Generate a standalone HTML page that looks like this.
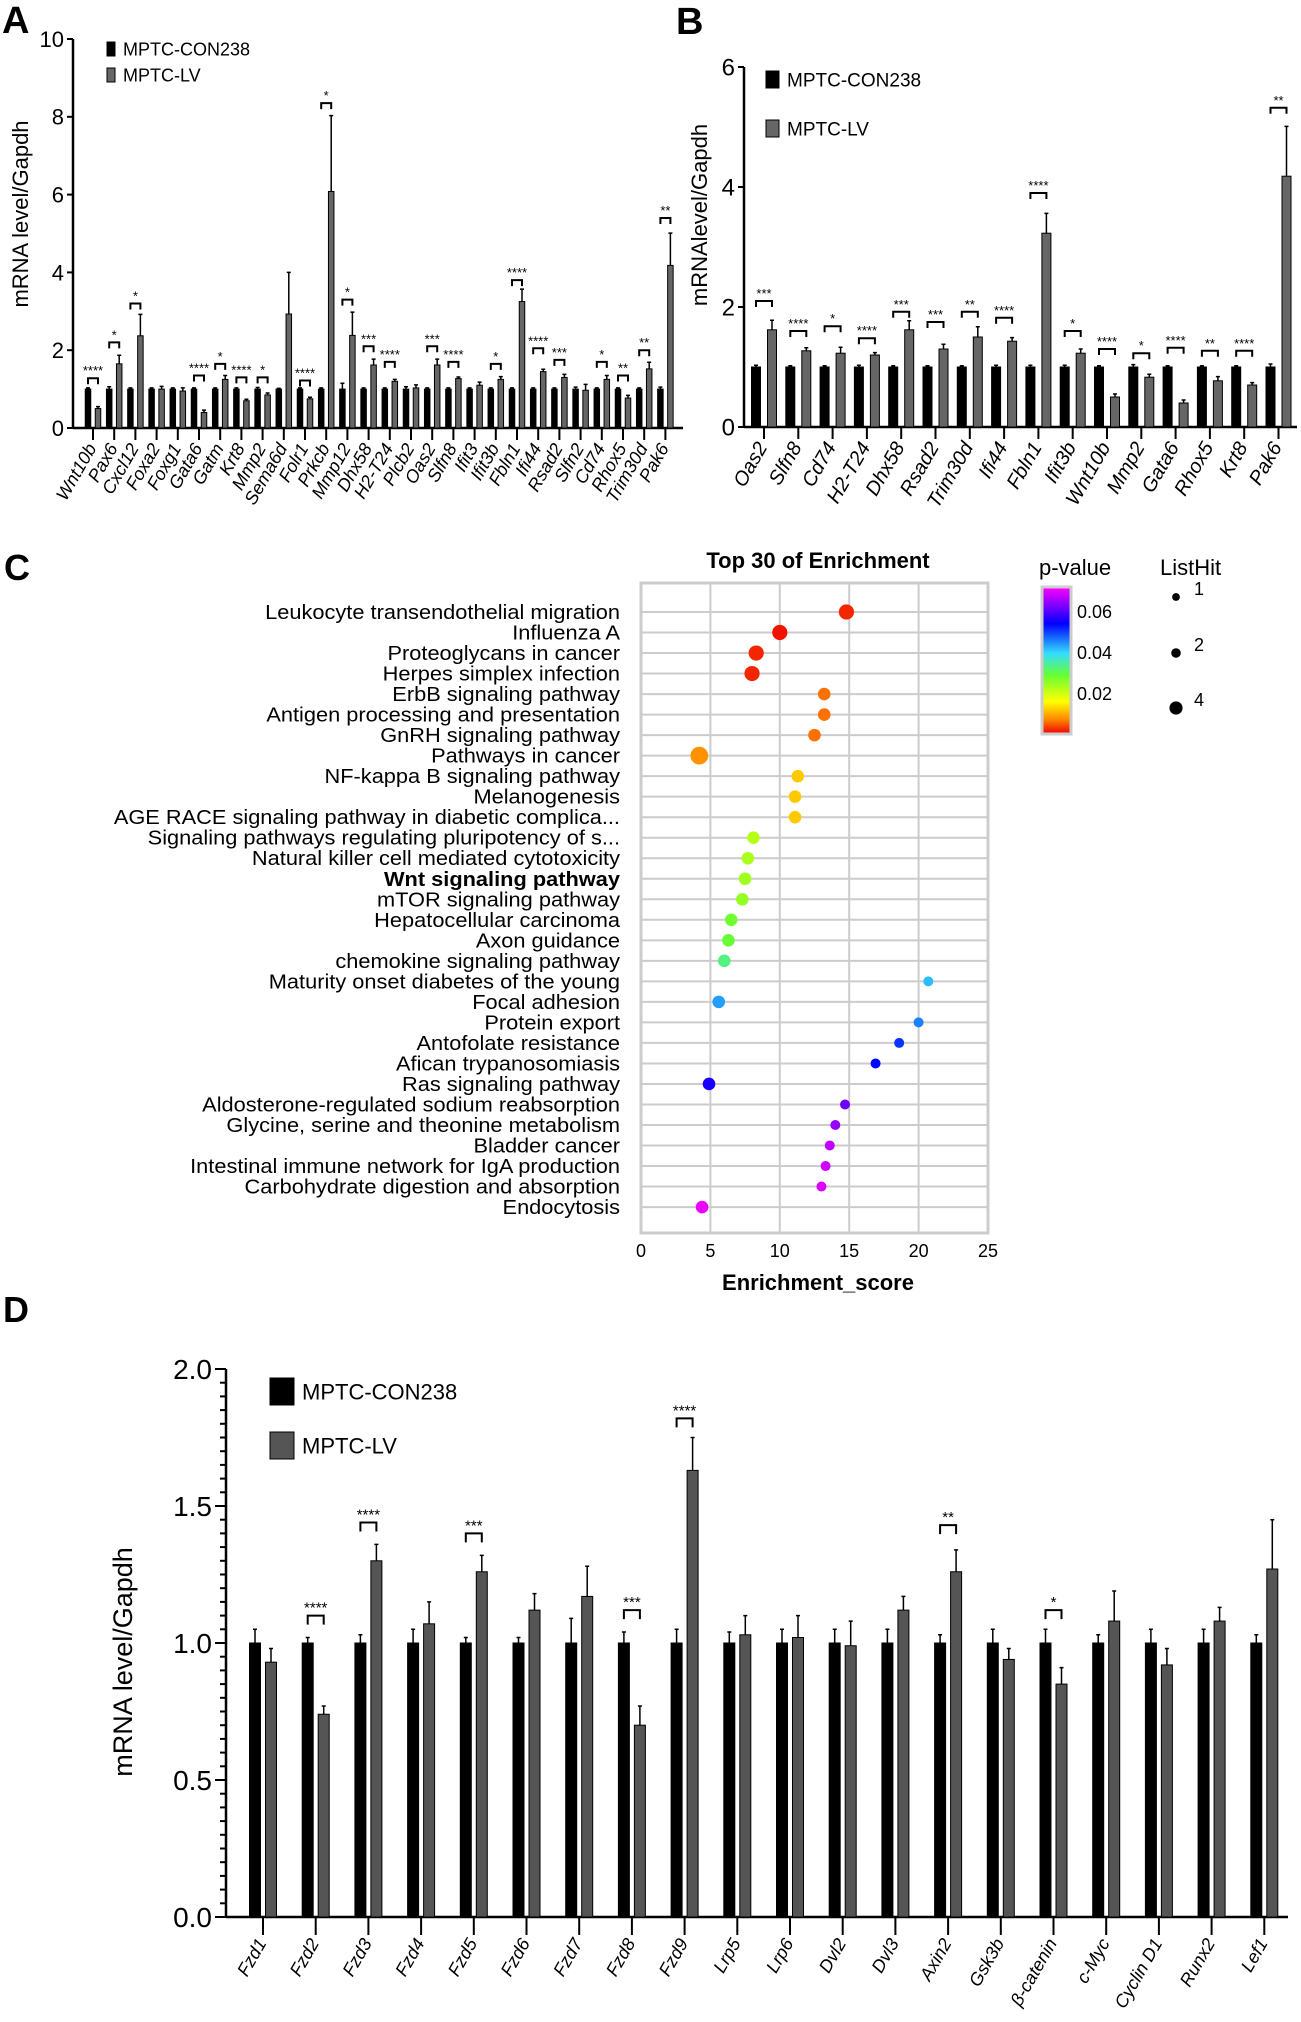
<!DOCTYPE html>
<html><head><meta charset="utf-8"><style>
html,body{margin:0;padding:0;background:#fff;}
svg{display:block;font-family:"Liberation Sans",Arial,sans-serif;}
</style></head><body>
<svg id="fig" width="1301" height="2022" viewBox="0 0 1301 2022">
<defs><linearGradient id="pgrad" x1="0" y1="0" x2="0" y2="1">
<stop offset="0" stop-color="#ff00ff"/><stop offset="0.25" stop-color="#0000ff"/><stop offset="0.45" stop-color="#33ddff"/><stop offset="0.6" stop-color="#66ff33"/><stop offset="0.78" stop-color="#ffff00"/><stop offset="0.9" stop-color="#ff8800"/><stop offset="1" stop-color="#ee0000"/></linearGradient></defs>
<text x="2" y="33" font-size="38" font-weight="bold">A</text>
<text x="676" y="34" font-size="38" font-weight="bold">B</text>
<text x="4" y="580" font-size="36" font-weight="bold">C</text>
<text x="3" y="1322" font-size="36" font-weight="bold">D</text>
</svg>
<script>
// ---------- Panel A data ----------
const aGenes=["Wnt10b","Pax6","Cxcl12","Foxa2","Foxg1","Gata6","Gatm","Krt8","Mmp2","Sema6d","Folr1","Prkcb","Mmp12","Dhx58","H2-T24","Plcb2","Oas2","Slfn8","Ifit3","Ifit3b","Fbln1","Ifi44","Rsad2","Slfn2","Cd74","Rhox5","Trim30d","Pak6"];
const aCtrl=[1,1,1,1,1,1,1,1,1,1,1,1,1,1,1,1,1,1,1,1,1,1,1,1,1,1,1,1];
const aCtrlErr=[0.03,0.06,0.03,0.03,0.03,0.03,0.03,0.03,0.04,0.02,0.03,0.03,0.15,0.03,0.03,0.06,0.03,0.03,0.03,0.03,0.03,0.03,0.03,0.05,0.03,0.03,0.03,0.05];
const aLV=[0.5,1.65,2.37,1.0,0.95,0.4,1.25,0.7,0.85,2.93,0.75,6.08,2.38,1.62,1.2,1.03,1.62,1.27,1.1,1.25,3.25,1.45,1.3,0.97,1.25,0.77,1.52,4.18];
const aLVErr=[0.05,0.22,0.55,0.07,0.08,0.06,0.1,0.04,0.05,1.07,0.04,1.95,0.6,0.15,0.05,0.08,0.15,0.04,0.08,0.07,0.32,0.06,0.08,0.15,0.1,0.07,0.17,0.83];
const aSig=["****","*","*","","","****","*","****","*","","****","*","*","***","****","","***","****","","*","****","****","***","","*","**","**","**"];
const aSigY=[1.28,2.2,3.2,0,0,1.35,1.65,1.3,1.3,0,1.22,8.35,3.3,2.1,1.7,0,2.1,1.7,0,1.65,3.8,2.05,1.75,0,1.7,1.35,2.0,5.4];
const aTicks=[0,2,4,6,8,10];
// ---------- Panel B data ----------
const bGenes=["Oas2","Slfn8","Cd74","H2-T24","Dhx58","Rsad2","Trim30d","Ifi44","Fbln1","Ifit3b","Wnt10b","Mmp2","Gata6","Rhox5","Krt8","Pak6"];
const bCtrl=[1,1,1,1,1,1,1,1,1,1,1,1,1,1,1,1];
const bCtrlErr=[0.03,0.02,0.02,0.03,0.02,0.02,0.02,0.03,0.03,0.03,0.02,0.04,0.02,0.02,0.02,0.05];
const bLV=[1.62,1.27,1.23,1.2,1.62,1.3,1.5,1.43,3.23,1.23,0.5,0.83,0.4,0.77,0.7,4.18];
const bLVErr=[0.16,0.05,0.1,0.04,0.15,0.08,0.17,0.06,0.33,0.07,0.05,0.05,0.05,0.07,0.04,0.83];
const bSig=["***","****","*","****","***","***","**","****","****","*","****","*","****","**","****","**"];
const bSigY=[2.1,1.6,1.68,1.48,1.92,1.75,1.92,1.82,3.9,1.6,1.3,1.23,1.32,1.27,1.27,5.32];
const bTicks=[0,2,4,6];
// ---------- Panel C data ----------
const cTerms=["Leukocyte transendothelial migration","Influenza A","Proteoglycans in cancer","Herpes simplex infection","ErbB signaling pathway","Antigen processing and presentation","GnRH signaling pathway","Pathways in cancer","NF-kappa B signaling pathway","Melanogenesis","AGE RACE signaling pathway in diabetic complica...","Signaling pathways regulating pluripotency of s...","Natural killer cell mediated cytotoxicity","Wnt signaling pathway","mTOR signaling pathway","Hepatocellular carcinoma","Axon guidance","chemokine signaling pathway","Maturity onset diabetes of the young","Focal adhesion","Protein export","Antofolate resistance","Afican trypanosomiasis","Ras signaling pathway","Aldosterone-regulated sodium reabsorption","Glycine, serine and theonine metabolism","Bladder cancer","Intestinal immune network for IgA production","Carbohydrate digestion and absorption","Endocytosis"];
const cScore=[14.8,10.0,8.3,8.0,13.2,13.2,12.5,4.2,11.3,11.1,11.1,8.1,7.7,7.5,7.3,6.5,6.3,6.0,20.7,5.6,20.0,18.6,16.9,4.9,14.7,14.0,13.6,13.3,13.0,4.4];
const cPval=[0.002,0.001,0.002,0.002,0.006,0.006,0.006,0.008,0.012,0.012,0.012,0.022,0.023,0.024,0.025,0.028,0.029,0.033,0.042,0.044,0.046,0.051,0.054,0.056,0.062,0.065,0.068,0.069,0.07,0.071];
const cHits=[3,3,3,3,2,2,2,4,2,2,2,2,2,2,2,2,2,2,1,2,1,1,1,2,1,1,1,1,1,2];
const cXTicks=[0,5,10,15,20,25];
// ---------- Panel D data ----------
const dGenes=["Fzd1","Fzd2","Fzd3","Fzd4","Fzd5","Fzd6","Fzd7","Fzd8","Fzd9","Lrp5","Lrp6","Dvl2","Dvl3","Axin2","Gsk3b","\u03b2-catenin","c-Myc","Cyclin D1","Runx2","Lef1"];
const dCtrl=[1,1,1,1,1,1,1,1,1,1,1,1,1,1,1,1,1,1,1,1];
const dCtrlErr=[0.05,0.02,0.03,0.05,0.02,0.02,0.09,0.04,0.05,0.04,0.05,0.05,0.05,0.03,0.05,0.05,0.03,0.05,0.05,0.03];
const dLV=[0.93,0.74,1.3,1.07,1.26,1.12,1.17,0.7,1.63,1.03,1.02,0.99,1.12,1.26,0.94,0.85,1.08,0.92,1.08,1.27];
const dLVErr=[0.05,0.03,0.06,0.08,0.06,0.06,0.11,0.07,0.12,0.07,0.08,0.09,0.05,0.08,0.04,0.06,0.11,0.06,0.05,0.18];
const dSig=["","****","****","","***","","","***","****","","","","","**","","*","","","",""];
const dSigY=[0,1.1,1.44,0,1.4,0,0,1.12,1.82,0,0,0,0,1.43,0,1.12,0,0,0,0];
const dTicks=[0,0.5,1.0,1.5,2.0];

const NS="http://www.w3.org/2000/svg";
const svg=document.getElementById("fig");
function mk(tag,attrs,parent){const e=document.createElementNS(NS,tag);for(const k in attrs)e.setAttribute(k,attrs[k]);(parent||svg).appendChild(e);return e;}

function barChart(c){
  const g=mk("g",{});
  
  
  const Y=v=>c.y0-(v-0)*c.ppu;
  const X=i=>c.x0+i*c.step;
  const ya=mk("line",{x1:c.ax,y1:c.y0,x2:c.ax,y2:Y(c.ymax),stroke:"#000","stroke-width":c.aw},g);
  
  
  const xa=mk("line",{x1:c.ax,y1:c.y0,x2:c.xend,y2:c.y0,stroke:"#000","stroke-width":c.aw},g);
  
  
  if(c.minor){for(let v=0;v<=c.ymax+1e-9;v+=c.minor){const m=mk("line",{x1:c.ax-6,y1:Y(v),x2:c.ax,y2:Y(v),stroke:"#000","stroke-width":2},g);
    
    }}
  c.ticks.forEach(t=>{
    const tk=mk("line",{x1:c.ax-c.tl,y1:Y(t),x2:c.ax,y2:Y(t),stroke:"#000","stroke-width":2},g);
    
    
    const tx=mk("text",{x:c.ax-c.tl-3,y:Y(t)+c.tfs*0.36,"text-anchor":"end","font-size":c.tfs},g);
    tx.textContent=c.tfmt(t);
    
    
  });
  c.genes.forEach((gn,i)=>{
    const x=X(i);
    const xt=mk("line",{x1:x,y1:c.y0,x2:x,y2:c.y0+c.xtl,stroke:"#000","stroke-width":2},g);
    
    
    const lb=mk("text",{transform:`translate(${x+4},${c.y0+c.xtl+8}) rotate(-60)`,"text-anchor":"end","font-size":c.lfs,"font-style":"italic"},g);
    lb.textContent=gn;
    
    
    [[c.ctrl[i],c.ctrlErr[i],x+c.off1,"#000","bar-control"],[c.lv[i],c.lvErr[i],x+c.off2,c.grey,"bar-lv"]].forEach(([v,e,cx,col,nm])=>{
      const r=mk("rect",{x:cx-c.bw/2,y:Y(v),width:c.bw,height:c.y0-Y(v),fill:col,stroke:"#000","stroke-width":1},g);
      
      
      if(e>0){
        const el=mk("path",{d:`M${cx},${Y(v)}V${Y(v+e)}M${cx-2},${Y(v+e)}H${cx+2}`,stroke:"#000","stroke-width":1.5,fill:"none"},g);
        
        
      }
    });
    if(c.sig[i]){
      const yb=Y(c.sigY[i]);const a=x+c.off1,b=x+c.off2;
      const br=mk("path",{d:`M${a},${yb+c.leg}V${yb}H${b}V${yb+c.leg}`,stroke:"#000","stroke-width":c.bsw,fill:"none"},g);
      
      
      const st=mk("text",{x:(a+b)/2,y:yb-3,"text-anchor":"middle","font-size":c.sfs},g);
      st.textContent=c.sig[i];
      
      
    }
  });
  const yl=mk("text",{transform:`translate(${c.ylx},${c.yly}) rotate(-90)`,"text-anchor":"middle","font-size":c.ylfs},g);
  yl.textContent=c.ylabel;
  
  
  [[c.lg1,"#000","MPTC-CON238","legend-entry-control"],[c.lg2,c.grey,"MPTC-LV","legend-entry-lv"]].forEach(([p,col,t,nm])=>{
    const sw=mk("rect",{x:p[0],y:p[1],width:p[2],height:p[3],fill:col,stroke:"#000","stroke-width":1},g);
    
    
    const lt=mk("text",{x:p[0]+p[2]+8,y:p[1]+p[3]*0.5+p[4]*0.36,"font-size":p[4]},g);
    lt.textContent=t;
    
    
  });
}

barChart({name:"panel-a-chart",genes:aGenes,ctrl:aCtrl,ctrlErr:aCtrlErr,lv:aLV,lvErr:aLVErr,sig:aSig,sigY:aSigY,ticks:aTicks,
 ax:73,xend:683,y0:428,ymax:10,ppu:38.9,x0:93,step:21.2,off1:-5,off2:5,bw:5.5,grey:"#666",aw:2.5,tl:6,tfs:22,tfmt:t=>String(t),
 xtl:12,lfs:18,leg:6,bsw:2,sfs:13,ylx:28,yly:214,ylfs:22,ylabel:"mRNA level/Gapdh",
 lg1:[107,42,8,14,18],lg2:[107,68,8,14,18]});
barChart({name:"panel-b-chart",genes:bGenes,ctrl:bCtrl,ctrlErr:bCtrlErr,lv:bLV,lvErr:bLVErr,sig:bSig,sigY:bSigY,ticks:bTicks,
 ax:744,xend:1297,y0:427,ymax:6,ppu:60,x0:764,step:34.3,off1:-8,off2:8,bw:9,grey:"#666",aw:2.5,tl:6,tfs:24,tfmt:t=>String(t),
 xtl:12,lfs:20,leg:6,bsw:2,sfs:13,ylx:707,yly:215,ylfs:22,ylabel:"mRNAlevel/Gapdh",
 lg1:[766,71,13,17,19],lg2:[766,120,13,17,19]});
barChart({name:"panel-d-chart",genes:dGenes,ctrl:dCtrl,ctrlErr:dCtrlErr,lv:dLV,lvErr:dLVErr,sig:dSig,sigY:dSigY,ticks:dTicks,
 ax:226,xend:1288,y0:1917,ymax:2.0,ppu:274,x0:263,step:52.7,off1:-8,off2:8,bw:11,grey:"#555",aw:2.5,tl:11,minor:0.05,tfs:28,tfmt:t=>t.toFixed(1),
 xtl:18,lfs:18,leg:9,bsw:2,sfs:15,ylx:132,yly:1662,ylfs:27,ylabel:"mRNA level/Gapdh",
 lg1:[270,1378,24,27,22],lg2:[270,1432,24,27,22]});

// ---------- Panel C ----------
(function(){
  const g=mk("g",{});
  
  
  const px0=641,px1=988,py0=583,py1=1233;
  const X=v=>641+v*13.88;
  const Y=i=>612+i*20.52;
  const bg=mk("rect",{x:px0,y:py0,width:px1-px0,height:py1-py0,fill:"#fff",stroke:"#ccc","stroke-width":3},g);
  
  
  cXTicks.forEach(t=>{
    if(t>0&&t<25){const gl=mk("line",{x1:X(t),y1:py0,x2:X(t),y2:py1,stroke:"#ccc","stroke-width":2},g);
    
    }
    const tl=mk("text",{x:X(t),y:1257,"text-anchor":"middle","font-size":18},g);
    tl.textContent=t;
    
    
  });
  function pcol(p){const f=Math.min(1,p/0.0725);
    const stops=[[0,[238,0,0]],[0.1,[255,136,0]],[0.22,[255,255,0]],[0.4,[102,255,51]],[0.55,[51,221,255]],[0.75,[0,0,255]],[1,[255,0,255]]];
    for(let k=1;k<stops.length;k++){if(f<=stops[k][0]){const a=stops[k-1],b=stops[k];const u=(f-a[0])/(b[0]-a[0]);
      return `rgb(${a[1].map((c,j)=>Math.round(c+(b[1][j]-c)*u)).join(",")})`;}}return "rgb(255,0,255)";}
  cTerms.forEach((t,i)=>{
    const gl=mk("line",{x1:px0,y1:Y(i),x2:px1,y2:Y(i),stroke:"#ccc","stroke-width":2},g);
    
    
    const lb=mk("text",{transform:`translate(620,${Y(i)+7}) scale(1.09,1)`,"text-anchor":"end","font-size":20,"font-weight":t==="Wnt signaling pathway"?"bold":"normal"},g);
    lb.textContent=t;
    
    
  });
  cTerms.forEach((t,i)=>{
    const d=mk("circle",{cx:X(cScore[i]),cy:Y(i),r:3.7+1.3*cHits[i],fill:pcol(cPval[i])},g);
    
    
  });
  const ti=mk("text",{x:818,y:568,"text-anchor":"middle","font-size":22,"font-weight":"bold"},g);
  ti.textContent="Top 30 of Enrichment";
  
  
  const xt=mk("text",{x:818,y:1290,"text-anchor":"middle","font-size":22,"font-weight":"bold"},g);
  xt.textContent="Enrichment_score";
  
  
  const pv=mk("text",{x:1039,y:575,"font-size":22},g);
  pv.textContent="p-value";
  
  
  const cb=mk("rect",{x:1042,y:587,width:29,height:147,fill:"url(#pgrad)",stroke:"#ccc","stroke-width":3},g);
  
  
  [["0.06",618],["0.04",659],["0.02",700]].forEach(([s,y])=>{
    const l=mk("text",{x:1077,y:y,"font-size":18},g);
    l.textContent=s;
    
    
  });
  const lh=mk("text",{x:1160,y:575,"font-size":22},g);
  lh.textContent="ListHit";
  
  
  [[1,597],[2,653],[4,708]].forEach(([n,y])=>{
    const c=mk("circle",{cx:1176,cy:y,r:3+n*0.9,fill:"#000"},g);
    
    
    const l=mk("text",{x:1194,y:y-2,"font-size":18},g);
    l.textContent=n;
    
    
  });
})();
</script>
</body></html>
